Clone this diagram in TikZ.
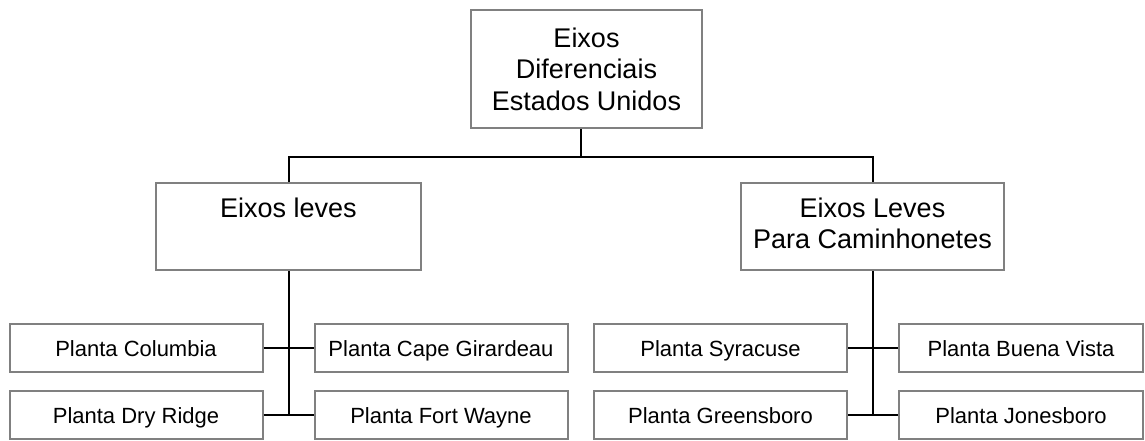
\documentclass[tikz,border=0pt]{standalone}
\usepackage{fontspec}
\setmainfont{Liberation Sans}
\definecolor{boxgray}{RGB}{128,128,128}

\begin{document}
\begin{tikzpicture}[x=1pt,y=-1pt,line width=2pt,
  box/.style={draw=boxgray,fill=white,align=center,inner sep=0pt,
    font=\fontsize{27}{31.5}\selectfont},
  plant/.style={draw=boxgray,fill=white,minimum width=253pt,minimum height=48pt,
    inner sep=0pt,text height=21pt,text depth=4pt,font=\fontsize{22}{26}\selectfont}]

\useasboundingbox (0,0) rectangle (1145,440);

\node [box,minimum width=231pt,minimum height=118pt] (eua) at (586.5,69) {Eixos\\Diferenciais\\Estados Unidos};
\node [box,minimum width=265pt,minimum height=87pt] (lev) at (288.5,226.5) {\strut Eixos leves\\\strut};
\node [box,minimum width=263pt,minimum height=87pt] (cam) at (872.5,226.5) {\strut Eixos Leves\\Para Caminhonetes\strut};

\node [plant] (col) at (136,347.5) {Planta Columbia};
\node [plant] (cap) at (441,347.5) {Planta Cape Girardeau};
\node [plant] (dry) at (136,415) {Planta Dry Ridge};
\node [plant] (fw) at (441,415) {Planta Fort Wayne};

\node [plant] (syr) at (720.5,347.5) {Planta Syracuse};
\node [plant,minimum width=244pt] (bv) at (1021,347.5) {Planta Buena Vista};
\node [plant] (gre) at (720.5,415) {Planta Greensboro};
\node [plant,minimum width=244pt] (jon) at (1021,415) {Planta Jonesboro};

\coordinate (bus) at (580.5,157);

\path [draw,-]
    (eua.south -| bus) -- (bus)
    (lev.north) |- (bus) -| (cam.north)
;

\path [draw,-]
    (lev.south) -- (lev.south |- dry.east)
    (col.east) -- (cap.west)
    (dry.east) -- (fw.west)
    (cam.south) -- (cam.south |- gre.east)
    (syr.east) -- (bv.west)
    (gre.east) -- (jon.west)
;

\end{tikzpicture}
\end{document}
